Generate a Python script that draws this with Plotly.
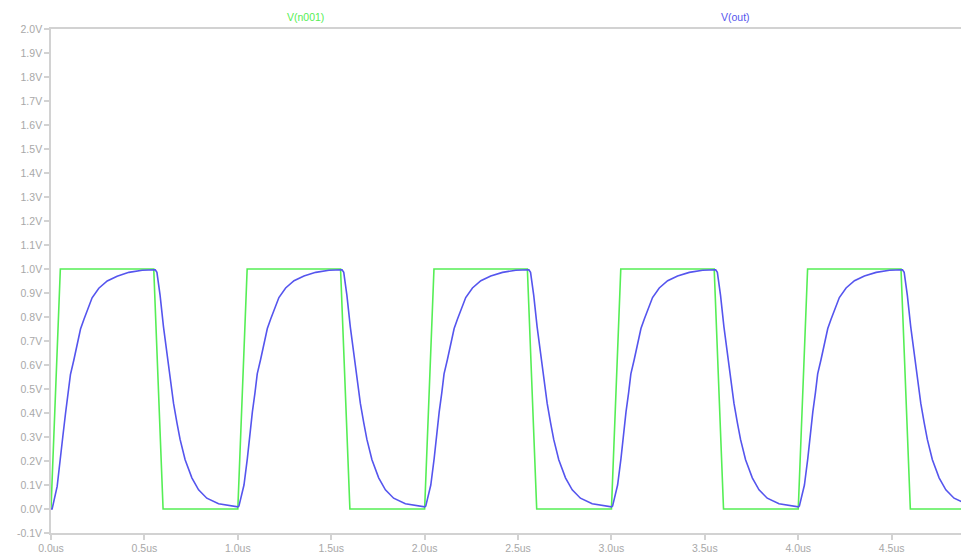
import plotly.graph_objects as go

# ---- data ----
green_t = [0.000, 0.050, 0.550, 0.600,
           1.000, 1.050, 1.550, 1.600,
           2.000, 2.050, 2.550, 2.600,
           3.000, 3.050, 3.550, 3.600,
           4.000, 4.050, 4.550, 4.600,
           4.914]
green_v = [0, 1, 1, 0,
           0, 1, 1, 0,
           0, 1, 1, 0,
           0, 1, 1, 0,
           0, 1, 1, 0,
           0]

blue_t = [
    0.000, 0.006, 0.033, 0.051, 0.063, 0.078, 0.092, 0.104, 0.122, 0.140, 0.158, 0.176, 0.194, 0.220, 0.256, 0.301, 0.354, 0.417, 0.488, 0.542,
    0.558, 0.567, 0.584, 0.602, 0.620, 0.638, 0.656, 0.674, 0.691, 0.718, 0.754, 0.790, 0.834, 0.897, 0.968,
    1.000, 1.006, 1.033, 1.051, 1.063, 1.078, 1.092, 1.104, 1.122, 1.140, 1.158, 1.176, 1.194, 1.220, 1.256, 1.301, 1.354, 1.417, 1.488, 1.542,
    1.558, 1.567, 1.584, 1.602, 1.620, 1.638, 1.656, 1.674, 1.691, 1.718, 1.754, 1.790, 1.834, 1.897, 1.968,
    2.000, 2.006, 2.033, 2.051, 2.063, 2.078, 2.092, 2.104, 2.122, 2.140, 2.158, 2.176, 2.194, 2.220, 2.256, 2.301, 2.354, 2.417, 2.488, 2.542,
    2.558, 2.567, 2.584, 2.602, 2.620, 2.638, 2.656, 2.674, 2.691, 2.718, 2.754, 2.790, 2.834, 2.897, 2.968,
    3.000, 3.006, 3.033, 3.051, 3.063, 3.078, 3.092, 3.104, 3.122, 3.140, 3.158, 3.176, 3.194, 3.220, 3.256, 3.301, 3.354, 3.417, 3.488, 3.542,
    3.558, 3.567, 3.584, 3.602, 3.620, 3.638, 3.656, 3.674, 3.691, 3.718, 3.754, 3.790, 3.834, 3.897, 3.968,
    4.000, 4.006, 4.033, 4.051, 4.063, 4.078, 4.092, 4.104, 4.122, 4.140, 4.158, 4.176, 4.194, 4.220, 4.256, 4.301, 4.354, 4.417, 4.488, 4.542,
    4.558, 4.567, 4.584, 4.602, 4.620, 4.638, 4.656, 4.674, 4.691, 4.718, 4.754, 4.790, 4.834, 4.897, 4.914,
]
blue_v = [
    0.000, 0.000, 0.094, 0.205, 0.300, 0.400, 0.480, 0.560, 0.620, 0.690, 0.750, 0.790, 0.830, 0.880, 0.920, 0.950, 0.970, 0.986, 0.995, 0.997,
    0.997, 0.986, 0.890, 0.760, 0.650, 0.540, 0.440, 0.360, 0.290, 0.205, 0.130, 0.080, 0.045, 0.022, 0.011,
    0.009, 0.012, 0.100, 0.210, 0.305, 0.405, 0.485, 0.563, 0.623, 0.692, 0.752, 0.792, 0.832, 0.881, 0.921, 0.951, 0.971, 0.986, 0.995, 0.997,
    0.997, 0.986, 0.890, 0.760, 0.650, 0.540, 0.440, 0.360, 0.290, 0.205, 0.130, 0.080, 0.045, 0.022, 0.011,
    0.009, 0.012, 0.100, 0.210, 0.305, 0.405, 0.485, 0.563, 0.623, 0.692, 0.752, 0.792, 0.832, 0.881, 0.921, 0.951, 0.971, 0.986, 0.995, 0.997,
    0.997, 0.986, 0.890, 0.760, 0.650, 0.540, 0.440, 0.360, 0.290, 0.205, 0.130, 0.080, 0.045, 0.022, 0.011,
    0.009, 0.012, 0.100, 0.210, 0.305, 0.405, 0.485, 0.563, 0.623, 0.692, 0.752, 0.792, 0.832, 0.881, 0.921, 0.951, 0.971, 0.986, 0.995, 0.997,
    0.997, 0.986, 0.890, 0.760, 0.650, 0.540, 0.440, 0.360, 0.290, 0.205, 0.130, 0.080, 0.045, 0.022, 0.011,
    0.009, 0.012, 0.100, 0.210, 0.305, 0.405, 0.485, 0.563, 0.623, 0.692, 0.752, 0.792, 0.832, 0.881, 0.921, 0.951, 0.971, 0.986, 0.995, 0.997,
    0.997, 0.986, 0.890, 0.760, 0.650, 0.540, 0.440, 0.360, 0.290, 0.205, 0.130, 0.080, 0.045, 0.022, 0.030,
]

x_tick_vals = [0.0, 0.5, 1.0, 1.5, 2.0, 2.5, 3.0, 3.5, 4.0, 4.5]
x_tick_text = ["0.0us", "0.5us", "1.0us", "1.5us", "2.0us", "2.5us", "3.0us", "3.5us", "4.0us", "4.5us"]
y_tick_vals = [-0.1, 0.0, 0.1, 0.2, 0.3, 0.4, 0.5, 0.6, 0.7, 0.8, 0.9, 1.0,
               1.1, 1.2, 1.3, 1.4, 1.5, 1.6, 1.7, 1.8, 1.9, 2.0]
y_tick_text = ["-0.1V", "0.0V", "0.1V", "0.2V", "0.3V", "0.4V", "0.5V", "0.6V", "0.7V", "0.8V", "0.9V", "1.0V",
               "1.1V", "1.2V", "1.3V", "1.4V", "1.5V", "1.6V", "1.7V", "1.8V", "1.9V", "2.0V"]

series_names = ["V(n001)", "V(out)"]
GREEN = "#55ee55"
BLUE = "#5555ee"
AXIS = "#d2d2d2"
TXT = "#a8a8a8"

fig = go.Figure()
fig.add_trace(go.Scatter(x=green_t, y=green_v, mode="lines", name=series_names[0],
                         line=dict(color=GREEN, width=1.6)))
fig.add_trace(go.Scatter(x=blue_t, y=blue_v, mode="lines", name=series_names[1],
                         line=dict(color=BLUE, width=1.6)))

# The page body has an 8px default margin, so the figure is sized to fit inside the window.
fig.update_layout(
    width=961, height=547,
    margin=dict(l=43, r=0, t=21, b=22, autoexpand=False),
    paper_bgcolor="white", plot_bgcolor="white",
    showlegend=False,
    font=dict(family="Liberation Sans, Arial, sans-serif", size=10.5, color=TXT),
    annotations=[
        dict(text=series_names[0], xref="paper", yref="paper", x=0.2553, y=1,
             yanchor="middle", yshift=12, showarrow=False,
             font=dict(color=GREEN, size=10.5)),
        dict(text=series_names[1], xref="paper", yref="paper", x=0.764, y=1,
             yanchor="middle", yshift=12, showarrow=False,
             font=dict(color=BLUE, size=10.5)),
    ],
)
fig.update_xaxes(range=[0, 4.914], tickvals=x_tick_vals, ticktext=x_tick_text,
                 showgrid=False, zeroline=False, showline=True, linecolor=AXIS, linewidth=1.5,
                 mirror=True, ticks="outside", ticklen=5, tickcolor=AXIS, tickwidth=1.5,
                 tickfont=dict(color=TXT, size=10.5))
fig.update_yaxes(range=[-0.1, 2.0], tickvals=y_tick_vals, ticktext=y_tick_text,
                 showgrid=False, zeroline=False, showline=True, linecolor=AXIS, linewidth=1.5,
                 ticks="outside", ticklen=5, tickcolor=AXIS, tickwidth=1.5,
                 tickfont=dict(color=TXT, size=10.5))

fig.write_html("out.html")
